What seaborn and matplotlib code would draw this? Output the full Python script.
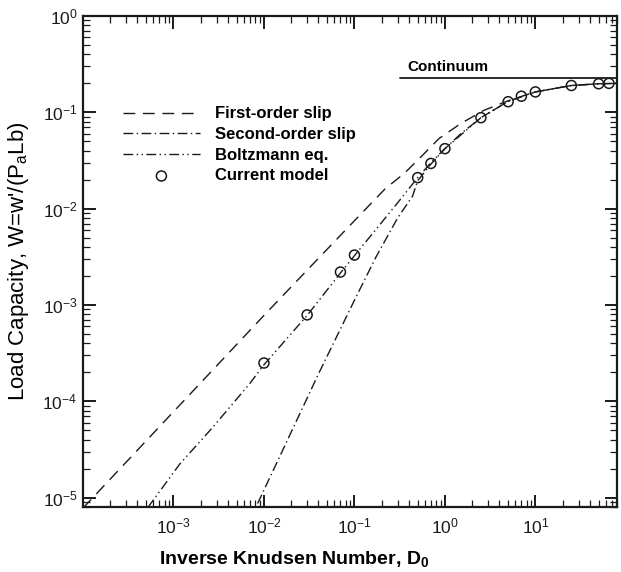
import numpy as np
import pandas as pd
import matplotlib
matplotlib.use("Agg")
import matplotlib.pyplot as plt
import matplotlib.ticker as mticker
import seaborn as sns

# ---- data ----
first_D = [1e-4, 1e-3, 1e-2, 3e-2, 0.1, 0.22, 0.355, 0.542, 0.863, 1.5, 2.7, 5, 10, 25, 50, 80]
first_W = [7.8e-6, 7.8e-5, 7.8e-4, 2.3e-3, 7.5e-3, 0.0162, 0.0232, 0.0344, 0.0536, 0.0766, 0.105, 0.132, 0.163, 0.19, 0.198, 0.2]

second_D = [0.0085, 0.01, 0.03, 0.0392, 0.1, 0.173, 0.3, 0.439, 0.5, 0.7, 1.0, 1.5, 2.5, 5, 10, 25, 50, 80]
second_W = [8.7e-6, 1.2e-5, 1.08e-4, 1.85e-4, 1.12e-3, 3.15e-3, 8.0e-3, 0.0135, 0.0195, 0.029, 0.042, 0.06, 0.088, 0.13, 0.163, 0.19, 0.198, 0.2]

boltz_D = [5.2e-4, 1.175e-3, 2.71e-3, 6.93e-3, 0.01, 0.03, 0.07, 0.1, 0.2, 0.3, 0.5, 0.7, 1.0, 2.5, 5, 10, 25, 50, 80]
boltz_W = [7.9e-6, 2.24e-5, 5.37e-5, 1.52e-4, 2.4e-4, 7.8e-4, 2.15e-3, 3.25e-3, 7.2e-3, 0.0115, 0.021, 0.03, 0.042, 0.088, 0.13, 0.163, 0.19, 0.198, 0.2]

model_D = [0.01, 0.03, 0.07, 0.1, 0.5, 0.7, 1.0, 2.5, 5, 7, 10, 25, 50, 65]
model_W = [2.5e-4, 7.9e-4, 2.2e-3, 3.3e-3, 0.021, 0.0295, 0.042, 0.088, 0.129, 0.147, 0.163, 0.19, 0.198, 0.2]

continuum_D = [0.32, 80]
continuum_W = [0.227, 0.227]

labels = ["First-order slip", "Second-order slip", "Boltzmann eq.", "Current model"]
xtick_vals = [1e-3, 1e-2, 1e-1, 1e0, 1e1]
ytick_vals = [1e-5, 1e-4, 1e-3, 1e-2, 1e-1, 1e0]

# ---- style ----
sns.set_theme(style="ticks")
plt.rcParams["font.family"] = ["Liberation Sans", "DejaVu Sans"]
plt.rcParams["mathtext.fontset"] = "custom"
plt.rcParams["mathtext.rm"] = "Liberation Sans"
plt.rcParams["mathtext.it"] = "Liberation Sans:italic"
plt.rcParams["mathtext.bf"] = "Liberation Sans:bold"
plt.rcParams["mathtext.default"] = "regular"
plt.rcParams["axes.unicode_minus"] = False
for key in ["text.color", "axes.labelcolor", "xtick.color", "ytick.color", "axes.edgecolor"]:
    plt.rcParams[key] = "black"

fig = plt.figure(figsize=(6.21, 5.72), dpi=100)
ax = fig.add_axes([0.1337, 0.1136, 0.86, 0.8584])

lw = 1.0
sns.lineplot(x=first_D, y=first_W, ax=ax, color="k", lw=lw, sort=False,
             linestyle=(0, (8.5, 5.5)), label=labels[0])
sns.lineplot(x=second_D, y=second_W, ax=ax, color="k", lw=lw, sort=False,
             linestyle=(0, (7, 2.5, 1, 2.5)), label=labels[1])
sns.lineplot(x=boltz_D, y=boltz_W, ax=ax, color="k", lw=lw, sort=False,
             linestyle=(0, (7, 2.5, 1, 2.5, 1, 2.5)), label=labels[2])
sns.scatterplot(x=model_D, y=model_W, ax=ax, marker="o", s=52,
                facecolors="none", edgecolor="k", linewidth=1.1, label=labels[3], zorder=5)
ax.plot(continuum_D, continuum_W, color="k", lw=1.3)
ax.text(0.38, 0.25, "Continuum", fontsize=11, fontweight="bold", ha="left", va="bottom")

ax.set_xscale("log")
ax.set_yscale("log")
ax.set_xlim(1e-4, 80)
ax.set_ylim(8e-6, 1.0)
ax.set_xticks(xtick_vals)
ax.set_yticks(ytick_vals)
ax.xaxis.set_minor_locator(mticker.LogLocator(base=10, subs=np.arange(2, 10), numticks=20))
ax.yaxis.set_minor_locator(mticker.LogLocator(base=10, subs=np.arange(2, 10), numticks=20))
ax.xaxis.set_minor_formatter(mticker.NullFormatter())
ax.yaxis.set_minor_formatter(mticker.NullFormatter())

ax.tick_params(which="both", direction="in", top=True, right=True, colors="k", labelsize=12.5)
ax.tick_params(which="major", length=9, width=1.4)
ax.tick_params(which="minor", length=5, width=0.9)
ax.tick_params(axis="x", which="major", pad=7)
ax.tick_params(axis="y", which="major", pad=4)
for sp in ax.spines.values():
    sp.set_linewidth(1.6)
    sp.set_color("k")

ax.set_xlabel(r"Inverse Knudsen Number, $\mathdefault{D_0}$", fontsize=14, fontweight="bold")
ax.xaxis.set_label_coords(0.396, -0.0856)
ax.set_ylabel(r"Load Capacity, W=w'/(P$_\mathdefault{a}$Lb)", fontsize=16, labelpad=8)

leg = ax.legend(loc="upper left", bbox_to_anchor=(0.075, 0.816), frameon=False,
                borderpad=0, borderaxespad=0, handlelength=4.6, handletextpad=0.9,
                labelspacing=0.34, scatterpoints=1, prop={"weight": "bold", "size": 12})

fig.savefig("out.png", dpi=100)
